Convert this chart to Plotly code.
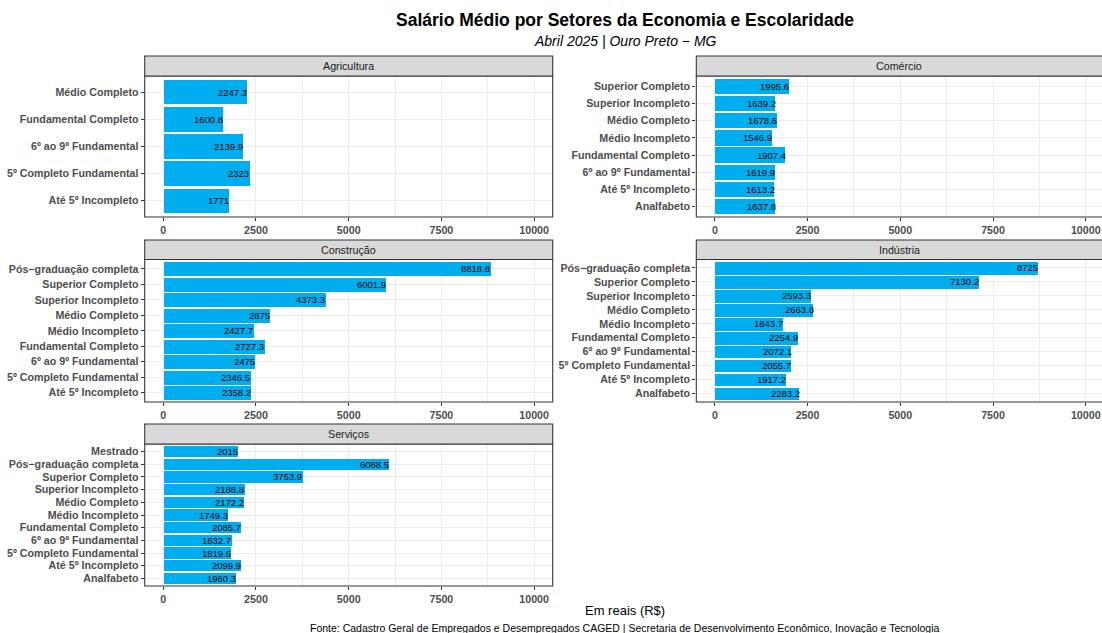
import plotly.graph_objects as go

# ---------------- DATA ----------------
setores = ["Agricultura", "Comércio", "Construção", "Indústria", "Serviços"]

agricultura_cat = ["Até 5º Incompleto", "5º Completo Fundamental", "6º ao 9º Fundamental",
                   "Fundamental Completo", "Médio Completo"]
agricultura_val = [1771, 2323, 2139.9, 1600.8, 2247.3]

comercio_cat = ["Analfabeto", "Até 5º Incompleto", "6º ao 9º Fundamental", "Fundamental Completo",
                "Médio Incompleto", "Médio Completo", "Superior Incompleto", "Superior Completo"]
comercio_val = [1637.8, 1613.2, 1619.9, 1907.4, 1546.9, 1678.6, 1639.2, 1995.6]

construcao_cat = ["Até 5º Incompleto", "5º Completo Fundamental", "6º ao 9º Fundamental",
                  "Fundamental Completo", "Médio Incompleto", "Médio Completo",
                  "Superior Incompleto", "Superior Completo", "Pós−graduação completa"]
construcao_val = [2358.2, 2346.5, 2475, 2727.3, 2427.7, 2875, 4373.3, 6001.9, 8818.8]

industria_cat = ["Analfabeto", "Até 5º Incompleto", "5º Completo Fundamental", "6º ao 9º Fundamental",
                 "Fundamental Completo", "Médio Incompleto", "Médio Completo",
                 "Superior Incompleto", "Superior Completo", "Pós−graduação completa"]
industria_val = [2283.2, 1917.2, 2055.7, 2072.1, 2254.9, 1843.7, 2663.8, 2593.3, 7130.2, 8725]

servicos_cat = ["Analfabeto", "Até 5º Incompleto", "5º Completo Fundamental", "6º ao 9º Fundamental",
                "Fundamental Completo", "Médio Incompleto", "Médio Completo", "Superior Incompleto",
                "Superior Completo", "Pós−graduação completa", "Mestrado"]
servicos_val = [1960.3, 2099.9, 1819.6, 1832.7, 2085.7, 1749.3, 2172.2, 2188.8, 3753.9, 6088.5, 2015]

x_ticks = [0, 2500, 5000, 7500, 10000]
x_ticklabels = ["0", "2500", "5000", "7500", "10000"]

titulo = "Salário Médio por Setores da Economia e Escolaridade"
subtitulo = "Abril 2025 | Ouro Preto − MG"
eixo_x = "Em reais (R$)"
fonte = "Fonte: Cadastro Geral de Empregados e Desempregados CAGED | Secretaria de Desenvolvimento Econômico, Inovação e Tecnologia"

# ---------------- LAYOUT GEOMETRY (pixels) ----------------
W, H = 1102, 633
def px(x):
    return x / W
def py(y):
    return 1 - y / H

FONT = "Liberation Sans, Arial, Helvetica, sans-serif"
BAR = "#00AEEF"
GRID = "#EBEBEB"
BORDER = "#333333"
TICKC = "#4D4D4D"

col_x = [(144.7, 552.7), (696.3, 1102)]
rows = [(56, 76, 217), (240, 259.5, 402), (424, 444, 586)]
unit = (552.7 - 144.7) / 11000.0  # px per real

panels = [
    (agricultura_cat, agricultura_val, 0, 0),
    (comercio_cat, comercio_val, 0, 1),
    (construcao_cat, construcao_val, 1, 0),
    (industria_cat, industria_val, 1, 1),
    (servicos_cat, servicos_val, 2, 0),
]

fig = go.Figure()
shapes = []
annotations = []

for i, (cats, vals, r, c) in enumerate(panels):
    idx = "" if i == 0 else str(i + 1)
    xa, ya = "x" + idx, "y" + idx
    x0, x1 = col_x[c]
    st, pt, pb = rows[r]
    xmax = (x1 - x0) / unit - 500
    fig.add_trace(go.Bar(
        x=vals, y=cats, orientation="h", width=0.9,
        marker=dict(color=BAR, line=dict(width=0)),
        xaxis=xa, yaxis=ya, showlegend=False, hoverinfo="x+y",
    ))
    n = len(cats)
    fig.layout["xaxis" + idx] = dict(
        domain=[px(x0), px(x1)], anchor=ya, range=[-500, xmax],
        tickmode="array", tickvals=x_ticks, ticktext=x_ticklabels,
        showgrid=True, gridcolor=GRID, gridwidth=1.07, zeroline=False,
        minor=dict(tick0=1250, dtick=2500, showgrid=True, gridcolor=GRID, gridwidth=0.55, ticks=""),
        ticks="outside", ticklen=3, tickwidth=1, tickcolor=BORDER,
        tickfont=dict(family=FONT, size=10.7, color=TICKC, weight="bold"),
        showline=False, fixedrange=True,
    )
    fig.layout["yaxis" + idx] = dict(
        domain=[py(pb), py(pt)], anchor=xa, type="category",
        categoryorder="array", categoryarray=cats, range=[-0.6, n - 0.4],
        tickmode="array", tickvals=cats, ticktext=cats,
        showgrid=True, gridcolor=GRID, gridwidth=1.07, zeroline=False,
        ticks="outside", ticklen=3, tickwidth=1, tickcolor=BORDER,
        tickfont=dict(family=FONT, size=10.7, color=TICKC, weight="bold"),
        showline=False, fixedrange=True, ticklabelstandoff=0,
    )
    # value labels
    for cat, v in zip(cats, vals):
        annotations.append(dict(
            x=v, y=cat, xref=xa, yref=ya, text=f"{v:g}", showarrow=False,
            xanchor="right", yanchor="middle", xshift=2,
            font=dict(family=FONT, size=9.5, color="black"),
        ))
    # panel border
    xr = x1 if c == 0 else W + 5
    shapes.append(dict(type="rect", xref="paper", yref="paper",
                       x0=px(x0), x1=px(xr), y0=py(pb), y1=py(pt),
                       line=dict(color=BORDER, width=1.07), fillcolor="rgba(0,0,0,0)",
                       layer="above"))
    # strip
    shapes.append(dict(type="rect", xref="paper", yref="paper",
                       x0=px(x0), x1=px(xr), y0=py(pt), y1=py(st),
                       line=dict(color=BORDER, width=1.07), fillcolor="#D9D9D9",
                       layer="above"))
    annotations.append(dict(
        x=px((x0 + x1) / 2), y=py((st + pt) / 2), xref="paper", yref="paper",
        text=setores[i], showarrow=False, xanchor="center", yanchor="middle",
        font=dict(family=FONT, size=10.7, color="#1A1A1A"),
    ))

cx = px(625)
annotations += [
    dict(x=cx, y=py(20), xref="paper", yref="paper", text=f"<b>{titulo}</b>", showarrow=False,
         xanchor="center", yanchor="middle", font=dict(family=FONT, size=17.5, color="black")),
    dict(x=cx, y=py(41), xref="paper", yref="paper", text=f"<i>{subtitulo}</i>", showarrow=False,
         xanchor="center", yanchor="middle", font=dict(family=FONT, size=14, color="black")),
    dict(x=cx, y=py(610), xref="paper", yref="paper", text=eixo_x, showarrow=False,
         xanchor="center", yanchor="middle", font=dict(family=FONT, size=13, color="black")),
    dict(x=cx, y=py(628), xref="paper", yref="paper", text=fonte, showarrow=False,
         xanchor="center", yanchor="middle", font=dict(family=FONT, size=10.5, color="black")),
]

fig.update_layout(
    width=W, height=H, margin=dict(l=0, r=0, t=0, b=0),
    paper_bgcolor="white", plot_bgcolor="white",
    shapes=shapes, annotations=annotations, showlegend=False,
    font=dict(family=FONT), bargap=0,
)

fig.write_html(
    "out.html",
    config={"displayModeBar": False},
    post_script="document.body.style.margin='0px';document.body.style.overflow='hidden';",
)
